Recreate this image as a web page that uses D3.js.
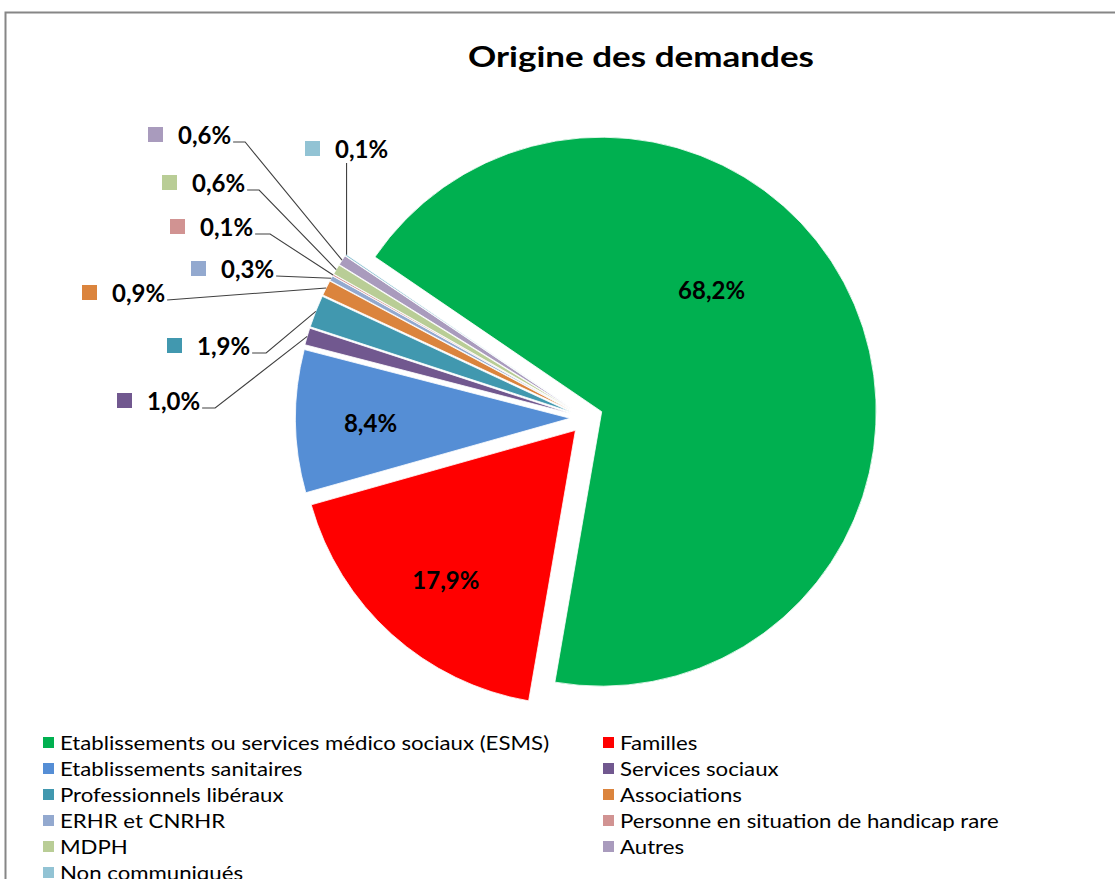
<!DOCTYPE html>
<html>
<head>
<meta charset="utf-8">
<script src="https://cdn.jsdelivr.net/npm/d3@7"></script>
<style>
  html, body { margin: 0; padding: 0; background: #fff; }
  svg { display: block; }
  text { font-family: Lato, "Open Sans", sans-serif; }
</style>
</head>
<body>
<script>
// ---------- data ----------
const title = "Origine des demandes";
const categories = [
  "Etablissements ou services médico sociaux (ESMS)",
  "Familles",
  "Etablissements sanitaires",
  "Services sociaux",
  "Professionnels libéraux",
  "Associations",
  "ERHR et CNRHR",
  "Personne en situation de handicap rare",
  "MDPH",
  "Autres",
  "Non communiqués"
];
const values = [68.2, 17.9, 8.4, 1.0, 1.9, 0.9, 0.3, 0.1, 0.6, 0.6, 0.1];
const colors = ["#00B050", "#FF0000", "#558ED5", "#71588F", "#4198AF", "#DB843D",
                "#93A9CF", "#D19392", "#B9CD96", "#A99BBD", "#92C3D4"];

// ---------- layout ----------
const W = 1115, H = 879;
const cx = 586.5, cy = 418.1, R = 274.5, explode = 16.5;
const startDeg = 304.3;

// inside labels: angle (deg, clockwise from north) & radius fraction from exploded centre
const insideLabels = { 0: {a: 42.2, r: 0.596}, 1: {a: 220.9, r: 0.721}, 2: {a: 268.5, r: 0.727} };
// outside labels: text start x, centre y, elbow length, mode
const outsideLabels = {
  3:  {tx: 147, y: 401, elbow: 13, mode: "side"},
  4:  {tx: 197, y: 346, elbow: 14, mode: "side"},
  5:  {tx: 112, y: 293, elbow: 0,  mode: "side"},
  6:  {tx: 221, y: 269, elbow: 0,  mode: "side"},
  7:  {tx: 200, y: 227, elbow: 15, mode: "side"},
  8:  {tx: 192, y: 183, elbow: 12, mode: "side"},
  9:  {tx: 178, y: 135, elbow: 12, mode: "side"},
  10: {tx: 335, y: 149, elbow: 0,  mode: "top"}
};

const fmt = v => v.toFixed(1).replace(".", ",") + "%";

const svg = d3.select("body").append("svg").attr("width", W).attr("height", H);

// border
svg.append("rect").attr("x", 5.5).attr("y", 12.5).attr("width", 1300).attr("height", 1000)
  .attr("fill", "none").attr("stroke", "#868686").attr("stroke-width", 2);

// title
svg.append("text").attr("x", 641).attr("y", 67).attr("text-anchor", "middle")
  .attr("font-size", 28).attr("font-weight", "bold").attr("fill", "#000")
  .attr("textLength", 346).attr("lengthAdjust", "spacingAndGlyphs")
  .text(title);

// pie
const a0 = startDeg * Math.PI / 180;
const pie = d3.pie().sort(null).value(d => d).startAngle(a0).endAngle(a0 + 2 * Math.PI);
const arcs = pie(values);
const arc = d3.arc().innerRadius(0).outerRadius(R);

const offset = d => {
  const m = (d.startAngle + d.endAngle) / 2;
  return [cx + explode * Math.sin(m), cy - explode * Math.cos(m)];
};

const g = svg.append("g");
g.selectAll("path").data(arcs).join("path")
  .attr("transform", d => `translate(${offset(d)})`)
  .attr("d", arc)
  .attr("fill", (d, i) => colors[i])
  .attr("stroke", "#fff").attr("stroke-width", 0.8);

// inside labels
arcs.forEach((d, i) => {
  const L = insideLabels[i];
  if (!L) return;
  const [ox, oy] = offset(d);
  const a = L.a * Math.PI / 180;
  svg.append("text")
    .attr("x", ox + L.r * R * Math.sin(a))
    .attr("y", oy - L.r * R * Math.cos(a))
    .attr("dy", "0.36em").attr("text-anchor", "middle")
    .attr("font-size", 24).attr("font-weight", "bold").attr("fill", "#000")
    .text(fmt(values[i]));
});

// outside labels with leader lines
const leaders = svg.append("g");
arcs.forEach((d, i) => {
  const L = outsideLabels[i];
  if (!L) return;
  const [ox, oy] = offset(d);
  const m = (d.startAngle + d.endAngle) / 2;
  const px = ox + R * Math.sin(m), py = oy - R * Math.cos(m);

  svg.append("rect").attr("x", L.tx - 30).attr("y", L.y - 8).attr("width", 15).attr("height", 15)
    .attr("fill", colors[i]);
  const t = svg.append("text").attr("x", L.tx).attr("y", L.y).attr("dy", "0.36em")
    .attr("font-size", 24).attr("font-weight", "bold").attr("fill", "#000")
    .text(fmt(values[i]));
  const tw = t.node().getComputedTextLength();
  let pts;
  if (L.mode === "top") {
    const x0 = ((L.tx - 30) + (L.tx + tw)) / 2;
    pts = [[x0, L.y + 14], [x0, py]];
  } else {
    const x0 = L.tx + tw + 2, y0 = L.y + 7;
    pts = [[x0, y0]];
    if (L.elbow > 0) pts.push([x0 + L.elbow, y0]);
    pts.push([px, py]);
  }
  leaders.append("path").attr("d", d3.line()(pts))
    .attr("fill", "none").attr("stroke", "#404040").attr("stroke-width", 1.1);
});

// legend
const legend = svg.append("g");
const colX = [43, 603], row0 = 743, rowH = 26, legendStretch = 1.11;
categories.forEach((c, i) => {
  const col = i % 2, row = Math.floor(i / 2);
  const y = row0 + row * rowH;
  legend.append("rect").attr("x", colX[col]).attr("y", y - 6).attr("width", 11).attr("height", 11)
    .attr("fill", colors[i]);
  const t = legend.append("text").attr("x", colX[col] + 17).attr("y", y).attr("dy", "0.36em")
    .attr("font-size", 20).attr("fill", "#000").text(c);
  const w = t.node().getComputedTextLength();
  t.attr("textLength", w * legendStretch).attr("lengthAdjust", "spacingAndGlyphs");
});
</script>
</body>
</html>
